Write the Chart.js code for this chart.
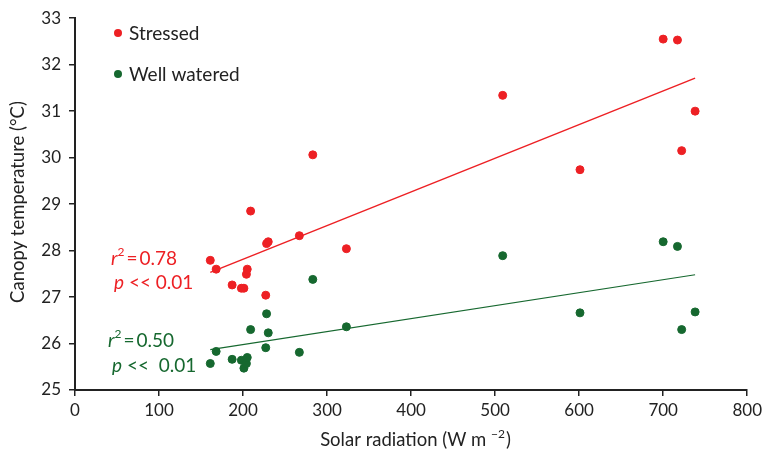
<!DOCTYPE html>
<html><head><meta charset="utf-8">
<script src="https://cdn.jsdelivr.net/npm/chart.js@4"></script>
<style>html,body{margin:0;padding:0;background:#fff}#wrap{width:766px;height:458px}</style>
</head><body><div id="wrap"><canvas id="c" width="766" height="458"></canvas></div>
<script>
const radiation = [161, 168, 187, 198, 201, 204, 205, 209, 227, 228, 230, 267, 283, 323, 509, 601, 700, 717, 722, 738];
const stressed = [27.79, 27.60, 27.26, 27.19, 27.19, 27.49, 27.60, 28.85, 27.04, 28.15, 28.19, 28.32, 30.06, 28.04, 31.34, 29.74, 32.55, 32.53, 30.15, 31.00];
const wellWatered = [25.57, 25.83, 25.66, 25.64, 25.47, 25.57, 25.70, 26.30, 25.91, 26.64, 26.23, 25.81, 27.38, 26.36, 27.89, 26.66, 28.19, 28.09, 26.30, 26.68];
const trendX = [161, 738];
const stressedTrend = [27.53, 31.71];
const wellTrend = [25.87, 27.48];
const seriesNames = ['Stressed', 'Well watered'];
const RED = '#ED2024', GREEN = '#16682F';
const FONT = 'Lato, "Open Sans", sans-serif';

const pts = (xs, ys) => xs.map((x, i) => ({x, y: ys[i]}));

const overlay = {
  id: 'overlay',
  afterDraw(chart) {
    const ctx = chart.ctx;
    ctx.save();
    // legend
    ctx.font = '19px ' + FONT;
    ctx.textBaseline = 'middle';
    ctx.textAlign = 'left';
    [[seriesNames[0], RED, 33], [seriesNames[1], GREEN, 74]].forEach(([t, c, y]) => {
      ctx.fillStyle = c;
      ctx.beginPath(); ctx.arc(118, y, 4, 0, Math.PI * 2); ctx.fill();
      ctx.fillStyle = '#222';
      ctx.fillText(t, 129, y + 1);
    });
    // stats
    function stat(x, y, color, rv, px, py, ptxt) {
      ctx.fillStyle = color;
      ctx.textBaseline = 'alphabetic';
      ctx.font = 'italic 19px ' + FONT;
      ctx.fillText('r', x, y);
      let w = ctx.measureText('r').width;
      ctx.font = '12px ' + FONT;
      ctx.fillText('2', x + w, y - 9);
      w += ctx.measureText('2').width + 2;
      ctx.font = '19px ' + FONT;
      ctx.fillText('=', x + w, y);
      w += ctx.measureText('=').width + 2;
      ctx.fillText(rv, x + w, y);
      ctx.font = 'italic 19px ' + FONT;
      ctx.fillText('p', px, py);
      const w2 = ctx.measureText('p').width;
      ctx.font = '19px ' + FONT;
      ctx.fillText(ptxt, px + w2, py);
    }
    stat(111, 265, RED, '0.78', 114, 289, ' << 0.01');
    stat(108, 347, GREEN, '0.50', 112, 372, ' <<  0.01');
    // axis titles
    ctx.fillStyle = '#222';
    ctx.textBaseline = 'alphabetic';
    const main = 'Solar radiation (W m ';
    ctx.font = '18.5px ' + FONT;
    const wm = ctx.measureText(main).width;
    ctx.font = '12px ' + FONT;
    const ws = ctx.measureText('\u22122').width;
    ctx.font = '18.5px ' + FONT;
    const wc = ctx.measureText(')').width;
    let sx = 415 - (wm + ws + wc) / 2;
    ctx.fillText(main, sx, 446);
    ctx.font = '12px ' + FONT;
    ctx.fillText('\u22122', sx + wm, 438);
    ctx.font = '18.5px ' + FONT;
    ctx.fillText(')', sx + wm + ws + 1, 446);
    ctx.translate(24, 202);
    ctx.rotate(-Math.PI / 2);
    ctx.textAlign = 'center';
    ctx.fillText('Canopy temperature (\u00B0C)', 0, 0);
    ctx.restore();
  }
};

new Chart(document.getElementById('c'), {
  type: 'scatter',
  data: {
    datasets: [
      {label: seriesNames[0], data: pts(radiation, stressed), backgroundColor: RED, borderColor: RED, pointRadius: 4, pointHoverRadius: 4},
      {label: seriesNames[1], data: pts(radiation, wellWatered), backgroundColor: GREEN, borderColor: GREEN, pointRadius: 4, pointHoverRadius: 4},
      {type: 'line', label: 'fit1', data: pts(trendX, stressedTrend), borderColor: RED, borderWidth: 1.5, pointRadius: 0, fill: false},
      {type: 'line', label: 'fit2', data: pts(trendX, wellTrend), borderColor: GREEN, borderWidth: 1.2, pointRadius: 0, fill: false}
    ]
  },
  options: {
    responsive: false,
    animation: false,
    events: [],
    layout: {padding: {left: 0, right: 16, top: 14, bottom: 0}},
    plugins: {legend: {display: false}, tooltip: {enabled: false}},
    scales: {
      x: {
        type: 'linear', min: 0, max: 800,
        ticks: {stepSize: 100, color: '#222', font: {family: FONT, size: 17}, padding: 4},
        grid: {drawOnChartArea: false, drawTicks: true, tickLength: 6, color: '#222', lineWidth: 1.5},
        border: {color: '#222', width: 2},
        afterFit(s) { s.height = 68; }
      },
      y: {
        min: 25, max: 33,
        ticks: {stepSize: 1, color: '#222', font: {family: FONT, size: 17}, padding: 8},
        grid: {drawOnChartArea: false, drawTicks: true, tickLength: 6, color: '#222', lineWidth: 1.5},
        border: {color: '#222', width: 2},
        afterFit(s) { s.width = 75; }
      }
    }
  },
  plugins: [overlay]
});
</script></body></html>
